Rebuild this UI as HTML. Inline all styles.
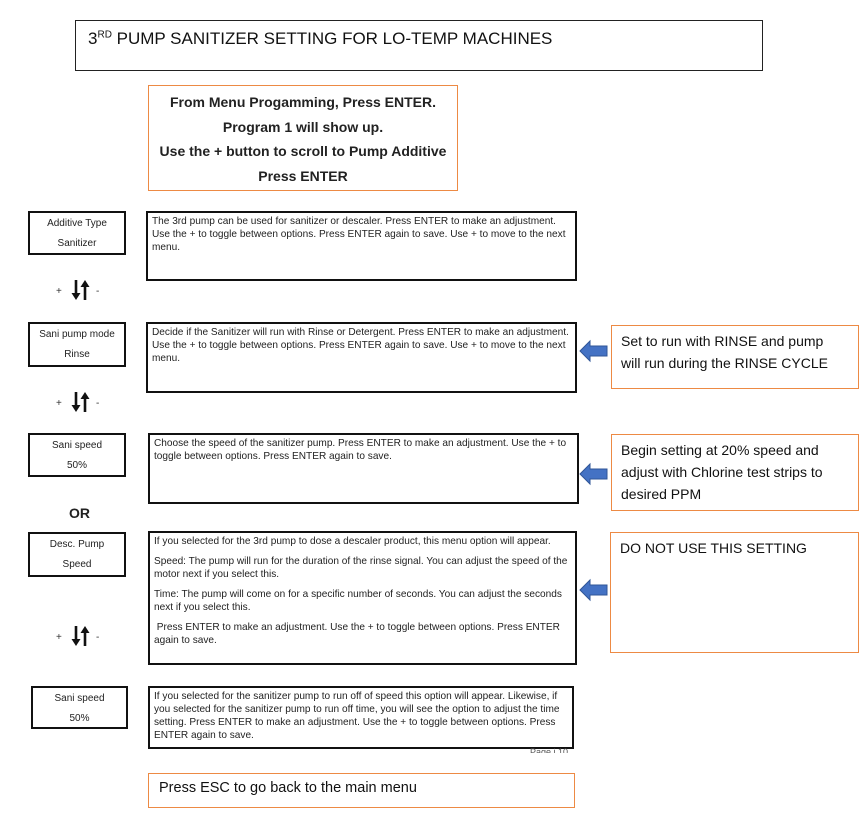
<!DOCTYPE html>
<html><head><meta charset="utf-8"><style>
body{margin:0;background:#fff;width:866px;height:836px;position:relative;overflow:hidden;font-family:"Liberation Sans",Arial,sans-serif;color:#222}
.a{position:absolute;box-sizing:border-box}
.lb{border:2px solid #111;text-align:center;font-size:10px;line-height:20px;padding-top:1px}
.db{border:2px solid #111;font-size:10.1px;line-height:13px;padding:2px 4px;color:#222;white-space:nowrap}
.ob{border:1.5px solid #ed8a44;font-family:"Liberation Sans",sans-serif}
.rt{font-size:14px;line-height:22px;padding:4px 9px;color:#111;white-space:nowrap}
.ar{position:absolute}
</style></head><body>
<div class="a" style="left:75px;top:20px;width:688px;height:51px;border:1px solid #222;font-size:17px;padding:8px 12px;color:#111">3<sup style="font-size:10px">RD</sup> PUMP SANITIZER SETTING FOR LO-TEMP MACHINES</div>
<div class="a ob" style="left:148px;top:85px;width:310px;height:106px;text-align:center;font-weight:bold;font-size:14px;line-height:24.5px;padding-top:4px;color:#222">From Menu Progamming, Press ENTER.<br>Program 1 will show up.<br>Use the + button to scroll to Pump Additive<br>Press ENTER</div>

<div class="a lb" style="left:28px;top:211px;width:98px;height:44px">Additive Type<br>Sanitizer</div>
<div class="a db" style="left:146px;top:211px;width:431px;height:70px">The 3rd pump can be used for sanitizer or descaler. Press ENTER to make an adjustment.<br>Use the + to toggle between options. Press ENTER again to save. Use + to move to the next<br>menu.</div>

<div class="a lb" style="left:28px;top:322px;width:98px;height:45px">Sani pump mode<br>Rinse</div>
<div class="a db" style="left:146px;top:322px;width:431px;height:71px">Decide if the Sanitizer will run with Rinse or Detergent. Press ENTER to make an adjustment.<br>Use the + to toggle between options. Press ENTER again to save. Use + to move to the next<br>menu.</div>
<div class="a ob rt" style="left:611px;top:325px;width:248px;height:64px">Set to run with RINSE and pump<br>will run during the RINSE CYCLE</div>

<div class="a lb" style="left:28px;top:433px;width:98px;height:44px">Sani speed<br>50%</div>
<div class="a db" style="left:148px;top:433px;width:431px;height:71px">Choose the speed of the sanitizer pump. Press ENTER to make an adjustment. Use the + to<br>toggle between options. Press ENTER again to save.</div>
<div class="a ob rt" style="left:611px;top:434px;width:248px;height:77px">Begin setting at 20% speed and<br>adjust with Chlorine test strips to<br>desired PPM</div>

<div class="a" style="left:69px;top:505px;font-weight:bold;font-size:14px">OR</div>

<div class="a lb" style="left:28px;top:532px;width:98px;height:45px">Desc. Pump<br>Speed</div>
<div class="a db" style="left:148px;top:531px;width:429px;height:134px;line-height:13px">If you selected for the 3rd pump to dose a descaler product, this menu option will appear.<div style="height:7px"></div>Speed: The pump will run for the duration of the rinse signal. You can adjust the speed of the<br>motor next if you select this.<div style="height:7px"></div>Time: The pump will come on for a specific number of seconds. You can adjust the seconds<br>next if you select this.<div style="height:7px"></div>&nbsp;Press ENTER to make an adjustment. Use the + to toggle between options. Press ENTER<br>again to save.</div>
<div class="a ob rt" style="left:610px;top:532px;width:249px;height:121px;font-size:14px">DO NOT USE THIS SETTING</div>

<div class="a lb" style="left:31px;top:686px;width:97px;height:43px">Sani speed<br>50%</div>
<div class="a db" style="left:148px;top:686px;width:426px;height:63px">If you selected for the sanitizer pump to run off of speed this option will appear. Likewise, if<br>you selected for the sanitizer pump to run off time, you will see the option to adjust the time<br>setting. Press ENTER to make an adjustment. Use the + to toggle between options. Press<br>ENTER again to save.</div>
<div class="a" style="left:530px;top:748px;height:5px;overflow:hidden;font-size:9px;line-height:8px;color:#555">Page i 10</div>

<div class="a ob" style="left:148px;top:773px;width:427px;height:35px;font-size:14.5px;padding:6px 10px;color:#111">Press ESC to go back to the main menu</div>

<svg class="ar" style="left:0;top:0" width="866" height="836">
<defs><g id="ud">
<text x="0" y="14" font-size="10" font-family="Liberation Sans" fill="#333">+</text>
<line x1="20" y1="0" x2="20" y2="15" stroke="#111" stroke-width="2.6"/>
<polygon points="15.5,13 24.5,13 20,20" fill="#111"/>
<line x1="29" y1="5" x2="29" y2="20" stroke="#111" stroke-width="2.6"/>
<polygon points="24.5,7 33.5,7 29,0" fill="#111"/>
<text x="40" y="14" font-size="10" font-family="Liberation Sans" fill="#333">-</text>
</g>
<g id="bl"><polygon points="0,10 10,0 10,5 27,5 27,15 10,15 10,20" fill="#4472c4" stroke="#2f5597" stroke-width="1"/></g></defs>
<use href="#ud" x="56" y="280"/>
<use href="#ud" x="56" y="392"/>
<use href="#ud" x="56" y="626"/>
<use href="#bl" x="580" y="341"/>
<use href="#bl" x="580" y="464"/>
<use href="#bl" x="580" y="580"/>
</svg>
</body></html>
